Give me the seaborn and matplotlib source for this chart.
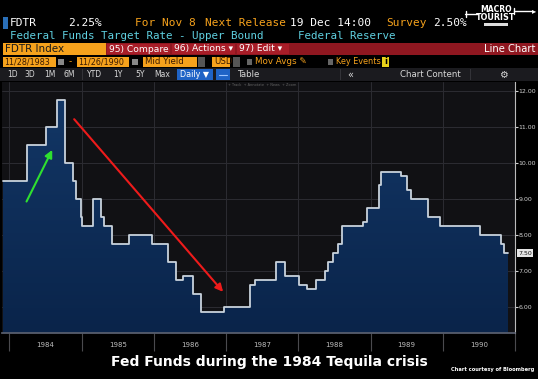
"""Fed funds target rate 1984-1990, Bloomberg-style terminal screenshot."""
import pandas as pd
import numpy as np
import matplotlib
matplotlib.use('Agg')
import matplotlib.pyplot as plt
import matplotlib.dates as mdates
import matplotlib.transforms as mtrans
from matplotlib.patches import Rectangle
from matplotlib.colors import LinearSegmentedColormap
import seaborn as sns

W, H = 538, 379

# step start dates and FDTR upper bound (%)
step_dates = ['1983-11-28', '1984-03-28', '1984-07-03', '1984-08-27', '1984-10-09',
              '1984-11-17', '1984-12-03', '1984-12-27', '1985-01-01', '1985-02-25',
              '1985-04-07', '1985-04-23', '1985-06-01', '1985-08-29', '1985-12-25',
              '1986-03-14', '1986-04-25', '1986-05-29', '1986-07-18', '1986-08-26',
              '1986-12-22', '1987-05-04', '1987-05-26', '1987-09-09', '1987-10-24',
              '1988-01-05', '1988-02-14', '1988-04-02', '1988-05-17', '1988-05-30',
              '1988-06-25', '1988-07-20', '1988-08-11', '1988-11-23', '1988-12-13',
              '1989-02-13', '1989-02-21', '1989-06-02', '1989-07-06', '1989-07-26',
              '1989-10-18', '1989-12-20', '1990-07-08', '1990-10-23', '1990-11-05',
              '1990-11-26']
rates = [9.5, 10.5, 11.0, 11.75, 10.0, 9.5, 9.0, 8.5, 8.25, 9.0,
         8.5, 8.25, 7.75, 8.0, 7.75, 7.25, 6.75, 6.875, 6.375, 5.875,
         6.0, 6.625, 6.75, 7.25, 6.875, 6.625, 6.5, 6.75, 7.0, 7.25,
         7.5, 7.75, 8.25, 8.375, 8.75, 9.375, 9.75, 9.625, 9.25, 9.0,
         8.5, 8.25, 8.0, 7.75, 7.5, 7.5]
y_ticks = [6, 7, 8, 9, 10, 11, 12]
years = [1984, 1985, 1986, 1987, 1988, 1989, 1990]
last_value = 7.50
range_buttons = ['1D', '3D', '1M', '6M', 'YTD', '1Y', '5Y', 'Max']

# hand-drawn arrows (tail date, tail value, head date, head value)
green_arrow = ('1984-03-28', 8.93, '1984-08-05', 10.36)
red_arrow = ('1984-11-24', 11.21, '1986-12-17', 6.43)

df = pd.DataFrame({'date': pd.to_datetime(step_dates), 'rate': rates})

sns.set_theme(style='dark')
plt.rcParams['font.family'] = ['DejaVu Sans']

fig = plt.figure(figsize=(W / 100, H / 100), dpi=100, facecolor='black')


def rect(x0, y0, x1, y1, color, **kw):
    fig.add_artist(Rectangle((x0 / W, 1 - y1 / H), (x1 - x0) / W, (y1 - y0) / H,
                             transform=fig.transFigure, facecolor=color,
                             edgecolor='none', **kw))


def txt(x, y, s, color='white', size=7, ha='left', **kw):
    fig.text(x / W, 1 - y / H, s, color=color, fontsize=size, ha=ha, va='center', **kw)


def hline(x0, x1, y, **kw):
    fig.add_artist(plt.Line2D([x0 / W, x1 / W], [1 - y / H] * 2, **kw))


def vline(x, y0, y1, **kw):
    fig.add_artist(plt.Line2D([x / W] * 2, [1 - y0 / H, 1 - y1 / H], **kw))


AMBER = '#f6a21c'
CYAN = '#5fd0e0'
MONO = 'DejaVu Sans Mono'

# ---- header line 1 / 2
rect(3, 17, 8, 29, '#2a6fb8')
txt(10, 23, 'FDTR', size=8, family=MONO)
txt(68, 23, '2.25%', size=8, family=MONO)
txt(135, 23, 'For Nov 8', color=AMBER, size=8, family=MONO)
txt(205, 23, 'Next Release', color=AMBER, size=8, family=MONO)
txt(290, 23, '19 Dec 14:00', size=8, family=MONO)
txt(386, 23, 'Survey', color=AMBER, size=8, family=MONO)
txt(433, 23, '2.50%', size=8, family=MONO)
txt(10, 36, 'Federal Funds Target Rate - Upper Bound', color=CYAN, size=7.8, family=MONO)
txt(298, 36, 'Federal Reserve', color=CYAN, size=7.8, family=MONO)

# logo
txt(496, 10, 'MACRO', size=5.5, ha='center', weight='bold')
txt(496, 17.5, 'TOURIST', size=5.8, ha='center', weight='bold')
rect(484, 22.5, 508, 25.5, '#dddddd')
hline(465, 478, 14, color='white', lw=1)
vline(466, 11, 17, color='white', lw=1)
hline(514, 532, 11, color='white', lw=1)
vline(514, 8, 14, color='white', lw=1)
txt(534, 11, '\u25b8', size=6, ha='center')

# ---- red command bar
rect(3, 43, 106, 55, AMBER)
txt(5, 49, 'FDTR Index', color='#1a1a1a', size=7.5)
rect(106, 43, 538, 55, '#8f1720')
rect(107, 44, 170, 54, '#a81d28')
rect(172, 44, 235, 54, '#a81d28')
rect(237, 44, 289, 54, '#a81d28')
txt(109, 49, '95) Compare', size=6.6)
txt(174, 49, '96) Actions \u25be', size=6.6)
txt(239, 49, '97) Edit \u25be', size=6.6)
txt(535, 49, 'Line Chart', size=7.2, ha='right')

# ---- date row
rect(3, 57, 56, 67, AMBER)
txt(4.5, 62, '11/28/1983', color='#3a1a00', size=5.8)
rect(58, 59, 64, 65, '#888888')
txt(69, 62, '-', color=AMBER, size=6.5)
rect(77, 57, 129, 67, AMBER)
txt(78.5, 62, '11/26/1990', color='#3a1a00', size=5.8)
rect(132, 59, 138, 65, '#888888')
rect(143, 57, 197, 67, AMBER)
txt(145, 62, 'Mid Yield', color='#3a1a00', size=6.2)
rect(198, 57, 205, 67, '#555555')
rect(212, 57, 230, 67, AMBER)
txt(214, 62, 'USD', color='#3a1a00', size=6.2)
rect(233, 57, 240, 67, '#555555')
rect(247, 59, 252, 65, '#666666')
txt(255, 62, 'Mov Avgs \u270e', color=AMBER, size=6.3)
rect(328, 59, 333, 65, '#666666')
txt(336, 62, 'Key Events', color=AMBER, size=5.9)
rect(382, 57, 389, 67, '#e8d21a')
txt(385.5, 62, 'i', color='black', size=6, ha='center', weight='bold')

# ---- toolbar row
rect(0, 68, 538, 81, '#1b1b1f')
for xb, lab in zip([13, 30, 50, 69, 95, 118, 140, 162], range_buttons):
    txt(xb, 74.5, lab, color='#d8d8d8', size=5.5, ha='center')
rect(177, 69, 213, 80, '#1f63c6')
txt(180, 74.5, 'Daily \u25bc', size=5.8)
rect(216, 69, 230, 80, '#1f63c6')
hline(219, 227, 75, color='#9cc4ff', lw=0.8)
txt(238, 74.5, 'Table', color='#d8d8d8', size=6.2)
txt(350, 74.5, '\u00ab', color='#d8d8d8', size=7, ha='center')
txt(400, 74.5, 'Chart Content', color='#d8d8d8', size=6.2)
txt(503, 74.5, '\u2699', color='#d8d8d8', size=7, ha='center')
for xs in [82, 340, 470]:
    rect(xs, 69, xs + 1, 80, '#333338')

# ---- main chart
ax = fig.add_axes([2 / W, 1 - 333 / H, 513 / W, (333 - 82) / H])
ax.set_facecolor('#111114')
xmin, xmax = pd.Timestamp('1983-11-25'), pd.Timestamp('1990-12-30')
ymin, ymax = 5.29, 12.24

poly = ax.fill_between(df['date'], df['rate'], ymin, step='post', color='none')
cmap = LinearSegmentedColormap.from_list('fill', ['#0a244a', '#133868'])
grad = np.linspace(0, 1, 256).reshape(-1, 1)
im = ax.imshow(grad, cmap=cmap, origin='lower', aspect='auto', zorder=1,
               extent=[mdates.date2num(xmin), mdates.date2num(xmax), ymin, ymax])
im.set_clip_path(poly.get_paths()[0], transform=ax.transData)

sns.lineplot(data=df, x='date', y='rate', drawstyle='steps-post', color='#c8d2dc',
             linewidth=1.3, ax=ax, zorder=3)

ax.set_xlim(xmin, xmax)
ax.set_ylim(ymin, ymax)
ax.set_xlabel('')
ax.set_ylabel('')

ax.yaxis.tick_right()
ax.set_yticks(y_ticks)
ax.set_yticklabels([f'{v:.2f}' for v in y_ticks])
ax.tick_params(axis='y', colors='#d0d0d0', labelsize=4.5, length=1.8, width=0.8,
               direction='out', pad=0.8, right=True, left=False)

ax.set_xticks([pd.Timestamp(f'{y}-01-01') for y in years + [1991]])
ax.set_xticklabels([])
ax.set_xticks([pd.Timestamp(f'{y}-07-02') for y in years], minor=True)
ax.set_xticklabels([str(y) for y in years], minor=True)
ax.tick_params(axis='x', which='major', length=13, width=0.8, color='#4a4a4e',
               direction='out', bottom=True)
ax.tick_params(axis='x', which='minor', length=0, labelsize=5, labelcolor='#bdbdbd', pad=6.5)

ax.grid(True, which='major', color='#2c2c32', linewidth=0.7)
ax.set_axisbelow(True)
for side in ['top', 'left']:
    ax.spines[side].set_visible(False)
ax.spines['bottom'].set_color('#5a6070')
ax.spines['right'].set_color('#bbbbbb')
ax.spines['right'].set_linewidth(0.8)

# last value marker
ax.text(1.006, last_value, f'{last_value:.2f}',
        transform=mtrans.blended_transform_factory(ax.transAxes, ax.transData),
        fontsize=4.5, color='#111111', va='center', ha='left',
        bbox=dict(boxstyle='square,pad=0.2', facecolor='#e6e6e6', edgecolor='none'), clip_on=False)

ax.text(0.44, 0.996, '+ Track  + Annotate  + News  + Zoom', transform=ax.transAxes,
        fontsize=2.5, color='#666666', va='top', ha='left')

for (t0, v0, t1, v1), col in [(green_arrow, '#2fe02f'), (red_arrow, '#ee1b1b')]:
    ax.annotate('', xy=(pd.Timestamp(t1), v1), xytext=(pd.Timestamp(t0), v0),
                arrowprops=dict(arrowstyle='-|>', color=col, lw=1.5, mutation_scale=11,
                                shrinkA=0, shrinkB=0), zorder=5)

# ---- caption
txt(269, 362, 'Fed Funds during the 1984 Tequila crisis', size=10, ha='center', weight='bold')
txt(493, 369, 'Chart courtesy of Bloomberg', size=3.7, ha='center', weight='bold')

fig.savefig('out.png', dpi=100, facecolor='black')
